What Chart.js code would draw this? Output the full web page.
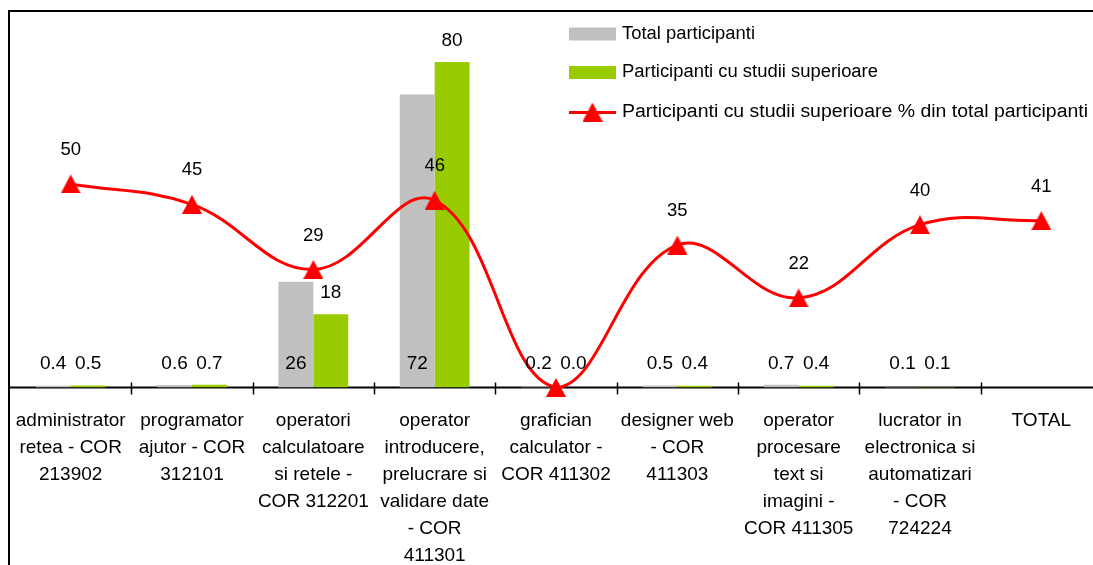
<!DOCTYPE html>
<html>
<head>
<meta charset="utf-8">
<script src="https://cdn.jsdelivr.net/npm/chart.js@4.4.1/dist/chart.umd.min.js"></script>
<style>
    html, body { margin: 0; padding: 0; background: #fff; overflow: hidden; }
    #myChart { display: block; }
</style>
</head>
<body>
<canvas id="myChart" width="1102" height="565"></canvas>
<script>
const categories = [
    ["administrator", "retea - COR", "213902"],
    ["programator", "ajutor - COR", "312101"],
    ["operatori", "calculatoare", "si retele -", "COR 312201"],
    ["operator", "introducere,", "prelucrare si", "validare date", "- COR", "411301"],
    ["grafician", "calculator -", "COR 411302"],
    ["designer web", "- COR", "411303"],
    ["operator", "procesare", "text si", "imagini -", "COR 411305"],
    ["lucrator in", "electronica si", "automatizari", "- COR", "724224"],
    ["TOTAL"]
];
const totalParticipanti = [0.4, 0.6, 26, 72, 0.2, 0.5, 0.7, 0.1, null];
const cuStudiiSuperioare = [0.5, 0.7, 18, 80, 0.0, 0.4, 0.4, 0.1, null];
const procentStudii = [50, 45, 29, 46, 0, 35, 22, 40, 41];
const seriesNames = [
    "Total participanti",
    "Participanti cu studii superioare",
    "Participanti cu studii superioare % din total participanti"
];
// where the gray bar labels sit (two of them sit at the foot of the bar)
const totalLabelAt = ["end", "end", "base", "base", "end", "end", "end", "end", "end"];

const FONT = "'Liberation Sans', Arial, sans-serif";
const GRAY = "#C0C0C0", GREEN = "#99CC00", RED = "#FF0000";

// triangle marker, centred on its box like the original
function triangle(w, h) {
    const c = document.createElement("canvas");
    c.width = w;
    c.height = h;
    const g = c.getContext("2d");
    g.fillStyle = RED;
    g.beginPath();
    g.moveTo(w / 2, 0);
    g.lineTo(w, h);
    g.lineTo(0, h);
    g.closePath();
    g.fill();
    return c;
}
const marker = triangle(20, 19);

function fmt(v) {
    return v < 1 ? v.toFixed(1) : v.toFixed(0);
}

const decor = {
    id: "decor",
    beforeDatasetsDraw(chart) {
        const ctx = chart.ctx;
        const x = chart.scales.x;
        const y0 = chart.scales.y.getPixelForValue(0);
        const ca = chart.chartArea;
        ctx.save();
        ctx.strokeStyle = "#000";
        ctx.lineWidth = 2;
        ctx.beginPath();
        ctx.moveTo(9, 11);
        ctx.lineTo(chart.width, 11);
        ctx.moveTo(9, 10);
        ctx.lineTo(9, chart.height);
        ctx.moveTo(9, y0);
        ctx.lineTo(chart.width, y0);
        ctx.stroke();
        ctx.lineWidth = 1.5;
        ctx.beginPath();
        const step = (ca.right - ca.left) / categories.length;
        for (let i = 1; i < categories.length; i++) {
            const bx = Math.round(x.getPixelForValue(i) - step / 2) + 0.5;
            ctx.moveTo(bx, y0 - 5);
            ctx.lineTo(bx, y0 + 7);
        }
        ctx.stroke();
        ctx.restore();
    },
    afterDraw(chart) {
        const ctx = chart.ctx;
        ctx.save();
        ctx.fillStyle = "#000";
        ctx.textAlign = "center";
        ctx.textBaseline = "middle";
        const y0 = chart.scales.y.getPixelForValue(0);

        // bar labels
        ctx.font = "19px " + FONT;
        [0, 1].forEach(function(d) {
            const meta = chart.getDatasetMeta(d);
            const vals = chart.data.datasets[d].data;
            meta.data.forEach(function(el, i) {
                if (vals[i] === null) return;
                let ty = el.y - 21;
                if (d === 0 && totalLabelAt[i] === "base") ty = y0 - 24;
                if (ty > y0 - 24) ty = y0 - 24;
                ctx.fillText(fmt(vals[i]), el.x, ty);
            });
        });

        // line labels (the zero one is not shown)
        ctx.font = "18.5px " + FONT;
        const lm = chart.getDatasetMeta(2);
        lm.data.forEach(function(el, i) {
            if (!procentStudii[i]) return;
            ctx.fillText(String(procentStudii[i]), el.x, el.y - 34);
        });

        // legend
        ctx.font = "18px " + FONT;
        ctx.textAlign = "left";
        const lx = 569, tx = 622;
        const rows = [34, 72.5, 112.5];
        const widths = [133, 256, 466];
        ctx.fillStyle = GRAY;
        ctx.fillRect(lx, rows[0] - 6.5, 47, 13);
        ctx.fillStyle = GREEN;
        ctx.fillRect(lx, rows[1] - 6.5, 47, 13);
        ctx.strokeStyle = RED;
        ctx.lineWidth = 3;
        ctx.beginPath();
        ctx.moveTo(lx, rows[2]);
        ctx.lineTo(lx + 47, rows[2]);
        ctx.stroke();
        ctx.drawImage(marker, lx + 23.5 - 10, rows[2] - 10);
        ctx.fillStyle = "#000";
        seriesNames.forEach(function(n, i) {
            const k = widths[i] / ctx.measureText(n).width;
            ctx.save();
            ctx.translate(tx, rows[i]);
            ctx.scale(k, 1);
            ctx.fillText(n, 0, 0);
            ctx.restore();
        });
        ctx.restore();
    }
};

const data = {
    labels: categories,
    datasets: [{
            label: seriesNames[0],
            data: totalParticipanti,
            backgroundColor: GRAY,
            borderWidth: 0,
            categoryPercentage: 0.575,
            barPercentage: 1,
            order: 2
        },
        {
            label: seriesNames[1],
            data: cuStudiiSuperioare,
            backgroundColor: GREEN,
            borderWidth: 0,
            categoryPercentage: 0.575,
            barPercentage: 1,
            order: 2
        },
        {
            type: "line",
            label: seriesNames[2],
            data: procentStudii,
            borderColor: RED,
            borderWidth: 3,
            backgroundColor: RED,
            pointStyle: marker,
            pointRadius: 10,
            tension: 0.4,
            clip: false,
            order: 0
        },
    ],
};

const config = {
    type: "bar",
    data,
    plugins: [decor],
    options: {
        responsive: false,
        animation: false,
        layout: {
            autoPadding: false,
            padding: { top: 11, left: 10, right: 0, bottom: 0 }
        },
        plugins: {
            legend: { display: false },
            tooltip: { enabled: false },
        },
        scales: {
            x: {
                grid: { display: false, drawTicks: false },
                border: { display: false },
                ticks: {
                    color: "#000",
                    font: { family: FONT, size: 19, lineHeight: 1.42 },
                    padding: 20,
                    maxRotation: 0,
                    autoSkip: false,
                },
                afterFit: function(s) {
                    s.height = 565 - 387.5;
                    s.paddingLeft = 0;
                    s.paddingRight = 0;
                },
            },
            y: {
                display: false,
                min: 0,
                max: 92.5,
            },
        },
    },
};

const myChart = new Chart(document.getElementById("myChart"), config);
</script>
</body>
</html>
